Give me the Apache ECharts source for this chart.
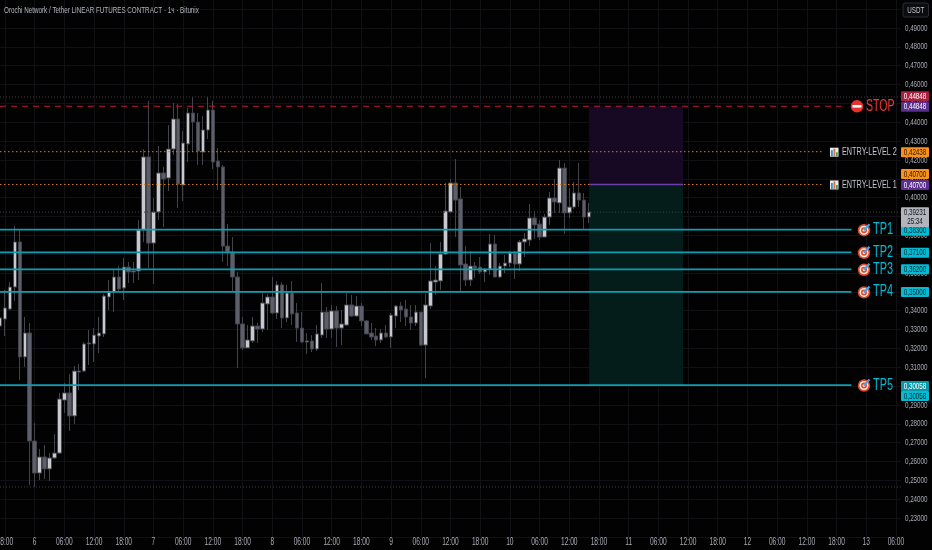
<!DOCTYPE html>
<html>
<head>
<meta charset="utf-8">
<style>html,body{margin:0;padding:0;background:#020203}#c{width:932px;height:550px}</style>
<script src="https://cdn.jsdelivr.net/npm/echarts@6/dist/echarts.min.js"></script>
</head>
<body>
<div id="c"></div>
<script>
const opens = [
.3319,.3356,.3409,.3526,.3765,.3155,.3282,.2709,.2539,.2624,
.2561,.2619,.2645,.2926,.2964,.2842,.3075,.3080,.3224,.3224,
.3266,.3277,.3473,.3499,.3579,.3521,.3632,.3606,.3611,.3828,
.4216,.3759,.3924,.4131,.4104,.4258,.4417,.4067,.4285,.4449,
.4401,.4242,.4359,.4465,.4194,.4163,.3743,.3712,.3579,.3330,
.3203,.3240,.3319,.3303,.3436,.3473,.3388,.3537,.3362,.3494,
.3388,.3308,.3234,.3240,.3197,.3271,.3393,.3303,.3399,.3308,
.3324,.3431,.3372,.3425,.3346,.3282,.3266,.3245,.3282,.3261,
.3372,.3425,.3409,.3367,.3335,.3393,.3218,.3425,.3552,.3558,
.3701,.3924,.4078,.3993,.3648,.3563,.3637,.3632,.3606,.3621,
.3754,.3579,.3637,.3653,.3706,.3648,.3765,.3775,.3892,.3860,
.3791,.3897,.3998,.3972,.4157,.3919,.3950,.4025,.3987,.3897];
const closes = [
.3362,.3415,.3526,.3765,.3155,.3282,.2709,.2539,.2624,.2561,
.2619,.2645,.2932,.2964,.2842,.3080,.3080,.3224,.3229,.3271,
.3282,.3478,.3499,.3579,.3515,.3632,.3606,.3611,.3828,.4216,
.3759,.3924,.4131,.4099,.4258,.4417,.4072,.4290,.4449,.4401,
.4247,.4359,.4465,.4189,.4163,.3743,.3712,.3579,.3330,.3203,
.3245,.3319,.3303,.3441,.3473,.3388,.3537,.3362,.3494,.3383,
.3308,.3234,.3240,.3197,.3277,.3393,.3303,.3399,.3308,.3330,
.3431,.3372,.3425,.3346,.3277,.3261,.3245,.3282,.3261,.3377,
.3425,.3404,.3367,.3335,.3393,.3218,.3431,.3558,.3563,.3701,
.3929,.4078,.3987,.3643,.3563,.3637,.3627,.3606,.3621,.3754,
.3579,.3637,.3653,.3706,.3648,.3765,.3781,.3892,.3855,.3791,
.3897,.3998,.3977,.4157,.3919,.3950,.4025,.3987,.3897,.3924];
const highs = [
.3393,.3510,.3552,.3850,.3834,.3367,.3335,.2804,.2667,.2688,
.2645,.2746,.2964,.3017,.3064,.3107,.3118,.3234,.3298,.3308,
.3367,.3489,.3563,.3616,.3637,.3680,.3659,.3659,.3881,.4258,
.4513,.3998,.4274,.4163,.4385,.4502,.4497,.4354,.4476,.4534,
.4449,.4433,.4534,.4513,.4263,.4173,.3860,.3791,.3606,.3367,
.3324,.3367,.3335,.3494,.3489,.3579,.3558,.3552,.3537,.3558,
.3441,.3393,.3282,.3271,.3324,.3547,.3420,.3431,.3425,.3404,
.3494,.3484,.3478,.3441,.3351,.3335,.3308,.3303,.3324,.3388,
.3431,.3446,.3457,.3431,.3431,.3393,.3489,.3759,.3637,.3765,
.4078,.4099,.4205,.4056,.3743,.3717,.3659,.3685,.3627,.3807,
.3802,.3653,.3696,.3717,.3717,.3775,.3812,.3966,.3929,.3881,
.3913,.4030,.4099,.4200,.4184,.4051,.4083,.4184,.4025,.3972];
const lows = [
.3203,.3266,.3404,.3452,.3033,.3102,.2476,.2465,.2502,.2507,
.2497,.2614,.2640,.2858,.2762,.2799,.2980,.3075,.3112,.3128,
.3176,.3261,.3404,.3393,.3499,.3457,.3547,.3547,.3563,.3765,
.3627,.3542,.3881,.3844,.4035,.4226,.3945,.3982,.4189,.4242,
.4173,.4173,.4311,.4152,.4041,.3659,.3637,.3499,.3096,.3192,
.3203,.3229,.3229,.3287,.3298,.3383,.3356,.3308,.3340,.3324,
.3234,.3229,.3171,.3181,.3187,.3255,.3255,.3255,.3208,.3218,
.3319,.3367,.3367,.3319,.3277,.3245,.3213,.3229,.3255,.3203,
.3308,.3340,.3319,.3298,.3319,.3213,.3043,.3409,.3484,.3510,
.3696,.3919,.3791,.3505,.3531,.3531,.3574,.3595,.3552,.3590,
.3579,.3574,.3600,.3632,.3568,.3611,.3685,.3743,.3781,.3775,
.3791,.3855,.3919,.3919,.3807,.3892,.3940,.3950,.3834,.3865];

// Price levels
const stopPrice = 0.44848;
const entryLevels = [0.42438, 0.40700];
const targetLevels = [0.38300, 0.37100, 0.36200, 0.35000, 0.30058];
const targetNames = ['TP1', 'TP2', 'TP3', 'TP4', 'TP5'];
const entryNames = ['ENTRY-LEVEL 2', 'ENTRY-LEVEL 1'];
const referencePrices = [0.4534, 0.39231, 0.2465];
const lastPrice = 0.39231;
const countdown = '25:34';
const title = 'Orochi Network / Tether LINEAR FUTURES CONTRACT · 1ч · Bitunix';
const dayLabels = [5, 6, 7, 8, 9, 10, 11, 12, 13];

// The reference's lettering is horizontally condensed and no narrow font is
// installed, so every label is drawn with a horizontal squeeze about its anchor.
const TEXT_SQUEEZE = 0.66;
const nativeFillText = CanvasRenderingContext2D.prototype.fillText;
CanvasRenderingContext2D.prototype.fillText = function (text, x, y, maxWidth) {
  this.save();
  this.translate(x, y);
  this.scale(TEXT_SQUEEZE, 1);
  if (maxWidth === undefined) nativeFillText.call(this, text, 0, 0);
  else nativeFillText.call(this, text, 0, 0, maxWidth);
  this.restore();
};

// Hourly categories, first candle is 5th 17:00
const categories = [];
for (let i = 0; i < 183; i++) {
  const total = 17 + i;
  const hour = total % 24;
  const day = dayLabels[Math.floor(total / 24)];
  categories.push(hour === 0 ? String(day) : String(hour).padStart(2, '0') + ':00');
}
const isTick = (i) => (17 + i) % 6 === 0;
const candles = opens.map((o, i) => [o, closes[i], lows[i], highs[i]]);
const comma = (v) => v.toFixed(5).replace('.', ',');

const FONT = '"Liberation Sans",sans-serif';
const CYAN = '#00bcd4';
const BOX_FROM = 119, BOX_TO = 138;

// Horizontal level lines: [price, from category, to category, colour, dash, width]
const lineRows = [
  ...referencePrices.map(v => [v, 0, 182, '#3d3e44', [1, 2], 1]),
  [stopPrice, 0, 170, '#c2173c', [6, 5], 1.2],
  ...entryLevels.map(v => [v, 0, 166, '#d57f1a', [1.5, 2.5], 1]),
  ...targetLevels.map(v => [v, 0, 172, '#0a9fb2', null, 1.7]),
  [entryLevels[1], BOX_FROM, BOX_TO, '#6b3fa8', null, 1.5]
];

function renderLevelLine(params, api) {
  const row = lineRows[params.dataIndex];
  const a = api.coord([row[1], api.value(1)]);
  const b = api.coord([row[2], api.value(1)]);
  return {
    type: 'line',
    shape: { x1: a[0], y1: a[1], x2: b[0], y2: b[1] },
    style: { stroke: row[3], lineWidth: row[5], lineDash: row[4] || undefined, fill: null }
  };
}

// Right-hand price tags: [price, text, fill, ink, vertical shift]
const tagRows = [
  [stopPrice, comma(stopPrice), '#a8213f', '#fff', -10],
  [stopPrice, comma(stopPrice), '#5a2e8c', '#fff', 0.5],
  [entryLevels[0], comma(entryLevels[0]), '#f7931a', '#2a1400', 0.5],
  [entryLevels[1], comma(entryLevels[1]), '#f7931a', '#2a1400', -10.5],
  [entryLevels[1], comma(entryLevels[1]), '#5a2e8c', '#fff', 0.5],
  [targetLevels[0], comma(targetLevels[0]), CYAN, '#06282e', 1],
  [targetLevels[1], comma(targetLevels[1]), CYAN, '#06282e', 0.5],
  [targetLevels[2], comma(targetLevels[2]), CYAN, '#06282e', 0],
  [targetLevels[3], comma(targetLevels[3]), CYAN, '#06282e', 0],
  [targetLevels[4], comma(targetLevels[4]), '#0a97a8', '#fff', 1],
  [targetLevels[4], comma(targetLevels[4]), CYAN, '#06282e', 11]
];

function renderTag(params, api) {
  const row = tagRows[params.dataIndex];
  const y = api.coord([0, api.value(1)])[1] + row[4];
  return {
    type: 'group',
    children: [
      { type: 'rect', shape: { x: 901, y: y - 5, width: 28, height: 10, r: 1 }, style: { fill: row[2] } },
      { type: 'text', style: { x: 915, y, text: row[1], fill: row[3], font: '9.5px ' + FONT, align: 'center', verticalAlign: 'middle' } }
    ]
  };
}

function renderLastPrice(params, api) {
  const y = api.coord([0, api.value(1)])[1];
  return {
    type: 'group',
    children: [
      { type: 'rect', shape: { x: 901, y: y - 5, width: 28, height: 20, r: 1 }, style: { fill: '#b2b5be' } },
      { type: 'text', style: { x: 915, y: y + 0.5, text: comma(lastPrice), fill: '#16171c', font: '9.5px ' + FONT, align: 'center', verticalAlign: 'middle' } },
      { type: 'text', style: { x: 915, y: y + 9.5, text: countdown, fill: '#16171c', font: '9.5px ' + FONT, align: 'center', verticalAlign: 'middle' } }
    ]
  };
}

function renderTarget(params, api) {
  const y = api.coord([0, api.value(1)])[1] + 0.5;
  const cx = 864;
  const disc = (r, fill) => ({ type: 'circle', shape: { cx, cy: y, r }, style: { fill } });
  return {
    type: 'group',
    children: [
      disc(6.2, '#e2472a'), disc(4.5, '#f3eee6'), disc(3, '#e2472a'), disc(1.4, '#f3eee6'),
      { type: 'line', shape: { x1: cx, y1: y, x2: cx + 5.5, y2: y - 6 }, style: { stroke: '#4aa3e0', lineWidth: 2.2 } },
      { type: 'text', style: { x: 873, y: y - 0.5, text: targetNames[params.dataIndex], fill: CYAN, font: '16.5px ' + FONT, align: 'left', verticalAlign: 'middle' } }
    ]
  };
}

function renderEntry(params, api) {
  const y = api.coord([0, api.value(1)])[1] + 0.5;
  return {
    type: 'group',
    children: [
      { type: 'rect', shape: { x: 830, y: y - 4.5, width: 8.5, height: 9 }, style: { fill: '#e8eaee' } },
      { type: 'rect', shape: { x: 831, y: y - 2, width: 1.8, height: 6 }, style: { fill: '#2f8fd8' } },
      { type: 'rect', shape: { x: 833.5, y: y - 3.5, width: 1.8, height: 7.5 }, style: { fill: '#e0703a' } },
      { type: 'rect', shape: { x: 836, y: y, width: 1.8, height: 4 }, style: { fill: '#4aa060' } },
      { type: 'text', style: { x: 842, y, text: entryNames[params.dataIndex], fill: '#c3c5cc', font: '11px ' + FONT, align: 'left', verticalAlign: 'middle' } }
    ]
  };
}

function renderStop(params, api) {
  const y = api.coord([0, api.value(1)])[1];
  return {
    type: 'group',
    children: [
      { type: 'circle', shape: { cx: 857, cy: y, r: 6.2 }, style: { fill: '#e8302f' } },
      { type: 'rect', shape: { x: 852.5, y: y - 1.3, width: 9, height: 2.6 }, style: { fill: '#fff' } },
      { type: 'text', style: { x: 866, y, text: 'STOP', fill: '#f0353f', font: '16px ' + FONT, align: 'left', verticalAlign: 'middle' } }
    ]
  };
}

const customSeries = (rows, renderItem, z) => ({
  type: 'custom', data: rows.map(v => [0, v]), encode: { x: 0, y: 1 },
  renderItem, z, silent: true, clip: false, animation: false
});

const chart = echarts.init(document.getElementById('c'), null, { renderer: 'canvas' });
chart.setOption({
  animation: false,
  backgroundColor: '#020203',
  title: {
    text: title, left: 4, top: 5, padding: 0,
    textStyle: { color: '#b2b5be', fontSize: 9.5, fontWeight: 'normal', fontFamily: FONT }
  },
  grid: { left: 0, width: 900.9, top: -9.7, height: 546.65, outerBoundsMode: 'none', containLabel: false },
  xAxis: {
    type: 'category', data: categories, boundaryGap: false,
    axisLine: { show: false }, axisTick: { show: false },
    axisLabel: { interval: (i) => isTick(i), color: '#a9acb5', fontSize: 10, fontFamily: FONT, margin: 0, hideOverlap: false },
    splitLine: { show: true, interval: (i) => isTick(i), lineStyle: { color: '#111115', width: 1 } }
  },
  yAxis: {
    type: 'value', position: 'right', min: 0.22, max: 0.51, interval: 0.01,
    axisLine: { show: false }, axisTick: { show: false },
    axisLabel: {
      color: '#a9acb5', fontSize: 9.5, fontFamily: FONT, margin: 4,
      formatter: (v) => (v < 0.225 || v > 0.495) ? '' : comma(v)
    },
    splitLine: { show: true, lineStyle: { color: '#111115', width: 1 } }
  },
  graphic: [{
    type: 'group', silent: true, z: 20, children: [
      { type: 'rect', shape: { x: 903, y: 3, width: 25.5, height: 14, r: 2 }, style: { fill: '#0b0c0f', stroke: '#2a2d35', lineWidth: 1 } },
      { type: 'text', style: { x: 915.7, y: 10, text: 'USDT', fill: '#c3c5cc', font: '9.5px ' + FONT, align: 'center', verticalAlign: 'middle' } }
    ]
  }],
  series: [
    {
      type: 'candlestick', name: 'Price', data: candles, barWidth: 4, z: 3,
      itemStyle: { color: '#c8c9cf', color0: '#5c5e69', borderColor: '#44454d', borderColor0: '#42434b', borderWidth: 1 },
      markArea: {
        silent: true,
        data: [
          [{ coord: [BOX_FROM, stopPrice], itemStyle: { color: '#170923' } }, { coord: [BOX_TO, entryLevels[1]] }],
          [{ coord: [BOX_FROM, entryLevels[1]], itemStyle: { color: '#041c1a' } }, { coord: [BOX_TO, targetLevels[4]] }]
        ]
      }
    },
    customSeries(lineRows.map(r => r[0]), renderLevelLine, 5),
    customSeries([stopPrice], renderStop, 10),
    customSeries(entryLevels, renderEntry, 10),
    customSeries(targetLevels, renderTarget, 10),
    customSeries(tagRows.map(r => r[0]), renderTag, 11),
    customSeries([lastPrice], renderLastPrice, 11)
  ]
});
</script>
</body>
</html>
